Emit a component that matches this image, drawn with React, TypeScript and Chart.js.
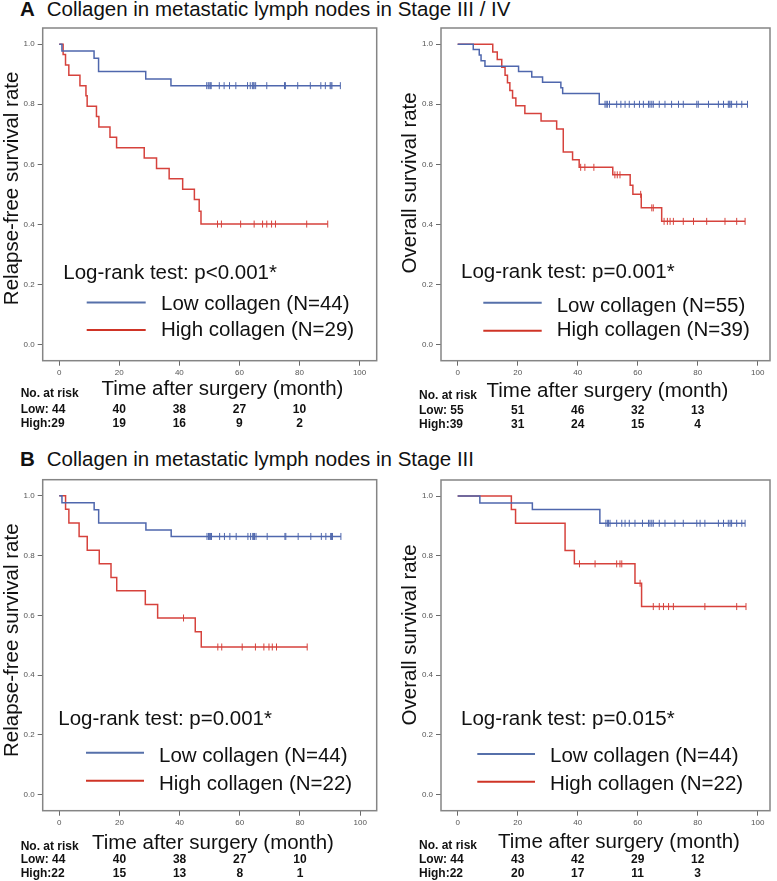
import React, { useEffect, useRef } from "react";
import { Chart, registerables } from "chart.js";

Chart.register(...registerables);

// ---------- shared axis values ----------
const xTickValues = [0, 20, 40, 60, 80, 100];
const yTickValues = [0, 0.2, 0.4, 0.6, 0.8, 1.0];
const riskTimes = [0, 20, 40, 60, 80];

// ---------- A: Stage III / IV, relapse-free survival ----------
const rfsLowTimesA = [0.9, 11.6, 13.1, 28.8, 37.2];
const rfsLowSurvA = [0.977, 0.953, 0.909, 0.884, 0.862];
const rfsLowEndA = 93.6;
const rfsLowCensorA = [49.1, 49.6, 49.9, 50.3, 50.6, 53.3, 54.9, 56.7, 58.8, 62.7, 63.6, 64.3, 64.6, 64.9, 65.4, 69.1, 75.0, 75.3, 79.4, 83.6, 87.1, 88.6, 90.2, 90.5, 90.8, 93.6];
const rfsHighTimesA = [1.3, 2.1, 3.2, 6.9, 8.9, 9.3, 12.4, 13.2, 16.9, 19.1, 28.3, 32.4, 36.6, 41.1, 45.0, 46.6, 47.2];
const rfsHighSurvA = [0.966, 0.931, 0.897, 0.862, 0.828, 0.793, 0.759, 0.724, 0.69, 0.655, 0.621, 0.586, 0.552, 0.517, 0.483, 0.444, 0.401];
const rfsHighEndA = 89.4;
const rfsHighCensorA = [52.7, 54.0, 60.4, 64.9, 67.7, 69.1, 70.7, 72.0, 82.4, 89.4];
const rfsRiskLowA = [44, 40, 38, 27, 10];
const rfsRiskHighA = [29, 19, 16, 9, 2];

// ---------- A: Stage III / IV, overall survival ----------
const osLowTimesA = [5.2, 7.2, 7.8, 9.1, 20.3, 24.7, 28.3, 34.4, 35.0, 47.2];
const osLowSurvA = [0.982, 0.964, 0.945, 0.927, 0.909, 0.891, 0.873, 0.855, 0.836, 0.8];
const osLowEndA = 96.6;
const osLowCensorA = [49.1, 49.5, 49.9, 50.6, 53.0, 54.4, 55.8, 57.2, 58.9, 60.6, 61.9, 63.6, 64.1, 64.7, 65.2, 67.2, 69.1, 71.3, 73.6, 75.2, 79.7, 80.2, 83.6, 86.9, 88.6, 90.2, 90.5, 90.8, 91.3, 93.0, 94.7, 96.6];
const osHighTimesA = [11.7, 13.2, 14.7, 15.8, 16.6, 17.4, 18.3, 19.4, 22.4, 27.8, 33.0, 35.2, 38.3, 40.5, 51.7, 57.5, 58.4, 61.2, 68.0];
const osHighSurvA = [0.974, 0.949, 0.923, 0.897, 0.872, 0.846, 0.821, 0.795, 0.769, 0.744, 0.718, 0.641, 0.615, 0.59, 0.565, 0.53, 0.5, 0.455, 0.41];
const osHighEndA = 95.8;
const osHighCensorA = [41.0, 42.4, 45.4, 52.4, 53.2, 54.1, 61.0, 64.7, 65.2, 68.8, 69.9, 70.8, 71.9, 75.2, 78.6, 83.0, 89.1, 93.0, 95.8];
const osRiskLowA = [55, 51, 46, 32, 13];
const osRiskHighA = [39, 31, 24, 15, 4];

// ---------- B: Stage III, relapse-free survival ----------
const rfsLowTimesB = [0.9, 11.6, 13.1, 28.8, 37.2];
const rfsLowSurvB = [0.977, 0.953, 0.909, 0.886, 0.864];
const rfsLowEndB = 93.6;
const rfsLowCensorB = [49.1, 49.6, 49.9, 50.3, 50.6, 53.3, 54.9, 56.7, 58.8, 62.7, 63.6, 64.3, 64.6, 64.9, 65.4, 69.1, 75.0, 75.3, 79.4, 83.6, 87.1, 88.6, 90.2, 90.5, 90.8, 93.6];
const rfsHighTimesB = [2.1, 3.2, 6.6, 9.3, 13.3, 17.2, 19.1, 28.6, 32.7, 45.2, 47.2];
const rfsHighSurvB = [0.955, 0.909, 0.864, 0.818, 0.773, 0.727, 0.682, 0.636, 0.591, 0.545, 0.494];
const rfsHighEndB = 82.4;
const rfsHighCensorB = [41.3, 52.7, 54.0, 60.8, 65.2, 68.0, 69.7, 70.8, 72.2, 82.4];
const rfsRiskLowB = [44, 40, 38, 27, 10];
const rfsRiskHighB = [22, 15, 13, 8, 1];

// ---------- B: Stage III, overall survival ----------
const osLowTimesB = [7.4, 24.9, 47.4];
const osLowSurvB = [0.977, 0.955, 0.909];
const osLowEndB = 95.8;
const osLowCensorB = [49.4, 49.9, 50.3, 50.8, 53.0, 54.7, 55.8, 57.2, 59.1, 61.6, 63.6, 64.1, 64.7, 65.2, 67.2, 69.1, 72.4, 75.2, 79.7, 80.8, 82.4, 86.9, 88.6, 90.2, 90.8, 91.3, 93.0, 94.7, 95.8];
const osHighTimesB = [17.9, 19.3, 35.8, 38.9, 59.1, 61.3];
const osHighSurvB = [0.955, 0.909, 0.818, 0.773, 0.708, 0.63];
const osHighEndB = 96.1;
const osHighCensorB = [40.6, 45.8, 53.0, 54.1, 54.7, 60.8, 65.2, 67.2, 68.6, 70.3, 71.9, 82.4, 93.0, 96.1];
const osRiskLowB = [44, 43, 42, 29, 12];
const osRiskHighB = [22, 20, 17, 11, 3];

// ---------- styles ----------
const BLUE = "#4f67ad";
const RED = "#d6423c";
const LEGEND_BLUE = "#5670aa";
const LEGEND_RED = "#cf3426";
const SANS = '"Liberation Sans", Arial, Helvetica, sans-serif';
const NARROW = '"Liberation Sans Narrow", "Liberation Sans", Arial, sans-serif';
const BIG = `20.5px ${SANS}`;
const TABLE = `bold 12px ${SANS}`;

type Group = { times: number[]; surv: number[]; end: number; censor: number[]; risk: number[]; label: string };

type PanelCfg = {
  left: number; top: number; w: number; h: number;
  FL: number; FT: number; FR: number; FB: number;
  xmin: number; xmax: number;
  yTitle: string; yTitleDy: number;
  pText: string; pX: number; pY: number;
  legX1: number; legX2: number; legTextX: number;
  lowLineY: number; lowTextY: number; highLineY: number; highTextY: number;
  xTitleX: number; xTitleY: number; noY: number; lowRowY: number; highRowY: number;
  low: Group; high: Group;
};

function curvePoints(times: number[], surv: number[], end: number) {
  const pts = [{ x: 0, y: 1 }];
  times.forEach((t, i) => pts.push({ x: t, y: surv[i] }));
  pts.push({ x: end, y: surv[surv.length - 1] });
  return pts;
}

function levelAt(times: number[], surv: number[], t: number) {
  let s = 1;
  for (let i = 0; i < times.length; i++) if (times[i] <= t) s = surv[i];
  return s;
}

const panels: PanelCfg[] = [
  {
    left: 0, top: 20, w: 390, h: 420, FL: 42.7, FT: 8, FR: 376.7, FB: 340.7, xmin: -5.5, xmax: 105.7,
    yTitle: "Relapse-free survival rate", yTitleDy: -6,
    pText: "Log-rank test: p<0.001*", pX: 20.6, pY: 251,
    legX1: 44, legX2: 103, legTextX: 118.3, lowLineY: 274.5, lowTextY: 282, highLineY: 302, highTextY: 308,
    xTitleX: 179.8, xTitleY: 34.3, noY: 36.6, lowRowY: 52, highRowY: 66,
    low: { times: rfsLowTimesA, surv: rfsLowSurvA, end: rfsLowEndA, censor: rfsLowCensorA, risk: rfsRiskLowA, label: "Low collagen (N=44)" },
    high: { times: rfsHighTimesA, surv: rfsHighSurvA, end: rfsHighEndA, censor: rfsHighCensorA, risk: rfsRiskHighA, label: "High collagen (N=29)" },
  },
  {
    left: 390, top: 20, w: 387, h: 420, FL: 51, FT: 8, FR: 380, FB: 340.7, xmin: -5.55, xmax: 104.1,
    yTitle: "Overall survival rate", yTitleDy: -11.5,
    pText: "Log-rank test: p=0.001*", pX: 20, pY: 250.3,
    legX1: 42.3, legX2: 100.7, legTextX: 115.7, lowLineY: 274.7, lowTextY: 283.7, highLineY: 302.7, highTextY: 307.5,
    xTitleX: 166.5, xTitleY: 36.6, noY: 38.6, lowRowY: 53.6, highRowY: 67.6,
    low: { times: osLowTimesA, surv: osLowSurvA, end: osLowEndA, censor: osLowCensorA, risk: osRiskLowA, label: "Low collagen (N=55)" },
    high: { times: osHighTimesA, surv: osHighSurvA, end: osHighEndA, censor: osHighCensorA, risk: osRiskHighA, label: "High collagen (N=39)" },
  },
  {
    left: 0, top: 470, w: 390, h: 411, FL: 42.7, FT: 9.7, FR: 376.7, FB: 340.7, xmin: -5.5, xmax: 105.5,
    yTitle: "Relapse-free survival rate", yTitleDy: -5,
    pText: "Log-rank test: p=0.001*", pX: 15.6, pY: 245.3,
    legX1: 43.3, legX2: 101.3, legTextX: 116.3, lowLineY: 273, lowTextY: 282, highLineY: 301, highTextY: 310.3,
    xTitleX: 170.3, xTitleY: 38.6, noY: 39.6, lowRowY: 52.6, highRowY: 66,
    low: { times: rfsLowTimesB, surv: rfsLowSurvB, end: rfsLowEndB, censor: rfsLowCensorB, risk: rfsRiskLowB, label: "Low collagen (N=44)" },
    high: { times: rfsHighTimesB, surv: rfsHighSurvB, end: rfsHighEndB, censor: rfsHighCensorB, risk: rfsRiskHighB, label: "High collagen (N=22)" },
  },
  {
    left: 390, top: 470, w: 387, h: 411, FL: 51, FT: 10, FR: 380, FB: 340.7, xmin: -5.55, xmax: 104.1,
    yTitle: "Overall survival rate", yTitleDy: -10.5,
    pText: "Log-rank test: p=0.015*", pX: 20, pY: 245,
    legX1: 36.3, legX2: 94, legTextX: 109, lowLineY: 274, lowTextY: 281.7, highLineY: 301.7, highTextY: 310,
    xTitleX: 178, xTitleY: 37, noY: 38.6, lowRowY: 52.6, highRowY: 66.3,
    low: { times: osLowTimesB, surv: osLowSurvB, end: osLowEndB, censor: osLowCensorB, risk: osRiskLowB, label: "Low collagen (N=44)" },
    high: { times: osHighTimesB, surv: osHighSurvB, end: osHighEndB, censor: osHighCensorB, risk: osRiskHighB, label: "High collagen (N=22)" },
  },
];

function text(ctx: CanvasRenderingContext2D, s: string, x: number, y: number, font: string, align: CanvasTextAlign = "left", color = "#111") {
  ctx.font = font;
  ctx.fillStyle = color;
  ctx.textAlign = align;
  ctx.textBaseline = "alphabetic";
  ctx.fillText(s, x, y);
}

function KMPanel({ cfg }: { cfg: PanelCfg }) {
  const ref = useRef<HTMLCanvasElement>(null);
  useEffect(() => {
    const canvas = ref.current;
    if (!canvas) return;
    const groupSets = (g: Group, color: string) => [
      {
        data: curvePoints(g.times, g.surv, g.end),
        stepped: "before" as const,
        borderColor: color,
        borderWidth: 1.5,
        pointRadius: 0,
        fill: false,
        tension: 0,
      },
      {
        data: g.censor.map((t) => ({ x: t, y: levelAt(g.times, g.surv, t) })),
        showLine: false,
        pointStyle: "line" as const,
        rotation: 90,
        pointRadius: 3.5,
        pointBorderWidth: 1,
        pointBorderColor: color,
        borderColor: color,
        backgroundColor: color,
      },
    ];
    const overlay = {
      id: "kmOverlay",
      afterDraw(chart: any) {
        const ctx: CanvasRenderingContext2D = chart.ctx;
        const a = chart.chartArea;
        const xs = chart.scales.x;
        ctx.save();
        // frame
        ctx.strokeStyle = "#858585";
        ctx.lineWidth = 1.5;
        ctx.strokeRect(a.left, a.top, a.right - a.left, a.bottom - a.top);
        // y title
        ctx.save();
        ctx.translate(cfg.FL - 25, (a.top + a.bottom) / 2 + cfg.yTitleDy);
        ctx.rotate(-Math.PI / 2);
        text(ctx, cfg.yTitle, 0, 0, BIG, "center");
        ctx.restore();
        // log-rank and legend
        text(ctx, cfg.pText, a.left + cfg.pX, a.top + cfg.pY, BIG);
        ctx.lineWidth = 2;
        ctx.strokeStyle = LEGEND_BLUE;
        ctx.beginPath();
        ctx.moveTo(a.left + cfg.legX1, a.top + cfg.lowLineY);
        ctx.lineTo(a.left + cfg.legX2, a.top + cfg.lowLineY);
        ctx.stroke();
        ctx.strokeStyle = LEGEND_RED;
        ctx.beginPath();
        ctx.moveTo(a.left + cfg.legX1, a.top + cfg.highLineY);
        ctx.lineTo(a.left + cfg.legX2, a.top + cfg.highLineY);
        ctx.stroke();
        text(ctx, cfg.low.label, a.left + cfg.legTextX, a.top + cfg.lowTextY, BIG);
        text(ctx, cfg.high.label, a.left + cfg.legTextX, a.top + cfg.highTextY, BIG);
        // x title
        text(ctx, "Time after surgery (month)", a.left + cfg.xTitleX, a.bottom + cfg.xTitleY, BIG, "center");
        // at-risk table
        const lx = a.left - 22;
        text(ctx, "No. at risk", lx, a.bottom + cfg.noY, TABLE);
        text(ctx, `Low: ${cfg.low.risk[0]}`, lx, a.bottom + cfg.lowRowY, TABLE);
        text(ctx, `High:${cfg.high.risk[0]}`, lx, a.bottom + cfg.highRowY, TABLE);
        for (let i = 1; i < riskTimes.length; i++) {
          const px = xs.getPixelForValue(riskTimes[i]);
          text(ctx, String(cfg.low.risk[i]), px, a.bottom + cfg.lowRowY, TABLE, "center");
          text(ctx, String(cfg.high.risk[i]), px, a.bottom + cfg.highRowY, TABLE, "center");
        }
        ctx.restore();
      },
    };
    const chart = new Chart(canvas, {
      type: "line",
      data: { datasets: [...groupSets(cfg.low, BLUE), ...groupSets(cfg.high, RED)] as any },
      options: {
        responsive: false,
        animation: false,
        events: [],
        layout: { padding: { left: 0, top: cfg.FT, right: cfg.w - cfg.FR, bottom: 0 } },
        plugins: { legend: { display: false }, tooltip: { enabled: false }, title: { display: false } },
        scales: {
          x: {
            type: "linear",
            min: cfg.xmin,
            max: cfg.xmax,
            afterBuildTicks: (s: any) => { s.ticks = xTickValues.map((v) => ({ value: v })); },
            afterFit: (s: any) => { s.height = cfg.h - cfg.FB; },
            grid: { drawOnChartArea: false, drawTicks: true, tickLength: 5, color: "#6a6a6a", lineWidth: 1 },
            border: { display: false },
            ticks: { autoSkip: false, maxRotation: 0, padding: 2, color: "#555", font: { size: 8, family: NARROW }, callback: (v: any) => String(v) },
          },
          y: {
            type: "linear",
            min: -0.054,
            max: 1.054,
            afterBuildTicks: (s: any) => { s.ticks = yTickValues.map((v) => ({ value: v })); },
            afterFit: (s: any) => { s.width = cfg.FL; },
            grid: { drawOnChartArea: false, drawTicks: true, tickLength: 5, color: "#6a6a6a", lineWidth: 1 },
            border: { display: false },
            ticks: { autoSkip: false, padding: 3, color: "#555", font: { size: 8, family: NARROW }, callback: (v: any) => Number(v).toFixed(1) },
          },
        },
      } as any,
      plugins: [overlay],
    });
    return () => chart.destroy();
  }, [cfg]);
  return (
    <canvas
      ref={ref}
      width={cfg.w}
      height={cfg.h}
      style={{ position: "absolute", left: cfg.left, top: cfg.top, width: cfg.w, height: cfg.h, display: "block" }}
    />
  );
}

const titleStyle: React.CSSProperties = {
  position: "absolute",
  font: BIG,
  lineHeight: "20.5px",
  whiteSpace: "nowrap",
  color: "#111",
};

export default function App() {
  return (
    <div style={{ position: "absolute", left: 0, top: 0, width: 777, height: 881, background: "#fff", overflow: "hidden" }}>
      <div style={{ ...titleStyle, left: 20, top: -1, fontWeight: "bold" }}>A</div>
      <div style={{ ...titleStyle, left: 46.7, top: -1 }}>Collagen in metastatic lymph nodes in Stage III / IV</div>
      <div style={{ ...titleStyle, left: 20, top: 449.3, fontWeight: "bold" }}>B</div>
      <div style={{ ...titleStyle, left: 46.7, top: 449.3 }}>Collagen in metastatic lymph nodes in Stage III</div>
      {panels.map((p, i) => (
        <KMPanel key={i} cfg={p} />
      ))}
    </div>
  );
}
